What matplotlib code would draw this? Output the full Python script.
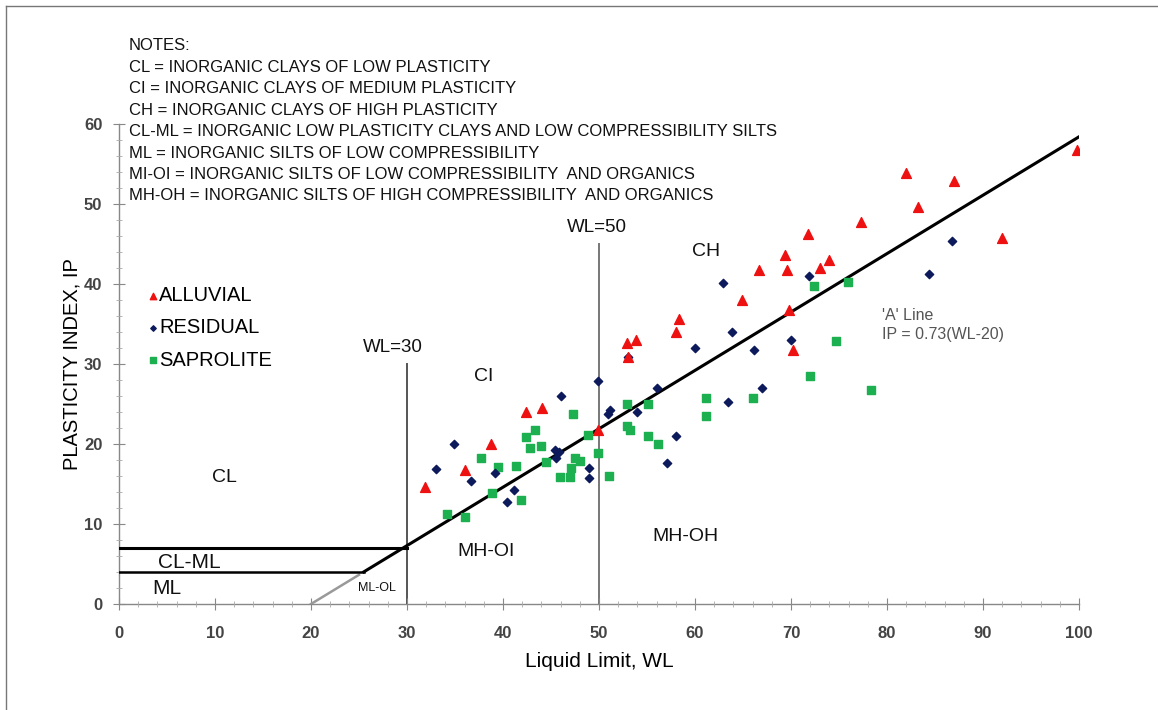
import numpy as np
import matplotlib
matplotlib.use("Agg")
import matplotlib.pyplot as plt
from matplotlib.ticker import MultipleLocator

plt.rcParams["font.family"] = ["Liberation Sans", "DejaVu Sans"]

# data
alluvial_wl = [31.9, 36.0, 38.8, 42.4, 44.1, 49.9, 52.9, 53.9, 53.0, 58.3, 58.0, 64.9,
               66.7, 69.4, 69.6, 69.8, 70.2, 71.8, 73.0, 74.0, 77.3, 82.0, 83.2, 87.0,
               92.0, 99.75]
alluvial_ip = [14.6, 16.8, 20.0, 24.0, 24.5, 21.8, 32.6, 33.0, 30.9, 35.6, 34.0, 38.0,
               41.7, 43.6, 41.7, 36.8, 31.8, 46.3, 42.0, 43.0, 47.7, 53.9, 49.6, 52.9,
               45.7, 56.75]

residual_wl = [33.0, 34.9, 36.7, 39.2, 40.4, 41.1, 45.4, 45.8, 45.5, 46.0, 49.0, 49.0,
               49.9, 50.9, 51.1, 53.0, 54.0, 56.0, 57.1, 58.0, 60.0, 62.9, 63.4, 63.9,
               66.1, 67.0, 70.0, 71.9, 84.4, 86.8]
residual_ip = [16.9, 20.0, 15.4, 16.4, 12.7, 14.25, 19.2, 19.0, 18.2, 26.0, 17.0, 15.8,
               27.9, 23.75, 24.25, 30.9, 24.0, 27.0, 17.6, 21.0, 32.0, 40.1, 25.2, 34.0,
               31.75, 27.0, 33.0, 41.0, 41.3, 45.4]

saprolite_wl = [34.2, 36.0, 37.7, 38.9, 39.5, 41.4, 41.9, 42.4, 42.8, 43.3, 44.0, 44.5,
                45.9, 47.0, 47.1, 47.3, 47.5, 48.0, 48.9, 49.9, 51.0, 52.9, 53.2, 52.95,
                55.1, 55.1, 56.1, 61.1, 61.1, 66.0, 72.0, 72.4, 74.7, 75.9, 78.3]
saprolite_ip = [11.3, 10.9, 18.2, 13.9, 17.1, 17.25, 13.0, 20.9, 19.5, 21.75, 19.7, 17.8,
                15.9, 15.9, 17.0, 23.75, 18.3, 17.9, 21.1, 18.9, 16.0, 22.2, 21.75, 25.0,
                25.0, 21.0, 20.0, 25.8, 23.5, 25.7, 28.5, 39.8, 32.9, 40.2, 26.75]

notes = [
    "NOTES:",
    "CL = INORGANIC CLAYS OF LOW PLASTICITY",
    "CI = INORGANIC CLAYS OF MEDIUM PLASTICITY",
    "CH = INORGANIC CLAYS OF HIGH PLASTICITY",
    "CL-ML = INORGANIC LOW PLASTICITY CLAYS AND LOW COMPRESSIBILITY SILTS",
    "ML = INORGANIC SILTS OF LOW COMPRESSIBILITY",
    "MI-OI = INORGANIC SILTS OF LOW COMPRESSIBILITY  AND ORGANICS",
    "MH-OH = INORGANIC SILTS OF HIGH COMPRESSIBILITY  AND ORGANICS",
]

W, H = 1158, 710
fig = plt.figure(figsize=(W / 100, H / 100), dpi=100)
ax = fig.add_axes([119 / W, 1 - 604 / H, 960 / W, 480 / H])
ax.set_xlim(0, 100)
ax.set_ylim(0, 60)
for s in ["top", "right"]:
    ax.spines[s].set_visible(False)
for s in ["left", "bottom"]:
    ax.spines[s].set_color("#888888")
    ax.spines[s].set_linewidth(1.0)
    ax.spines[s].set_zorder(0)

ax.xaxis.set_major_locator(MultipleLocator(10))
ax.xaxis.set_minor_locator(MultipleLocator(2))
ax.yaxis.set_major_locator(MultipleLocator(10))
ax.yaxis.set_minor_locator(MultipleLocator(2))
ax.tick_params(which="major", direction="inout", length=8, color="#888888",
               labelsize=12, labelcolor="#444444")
ax.tick_params(axis="x", which="major", pad=12)
ax.tick_params(axis="y", which="major", pad=8)
ax.tick_params(which="minor", direction="inout", length=4, color="#aaaaaa")
for lab in ax.get_xticklabels() + ax.get_yticklabels():
    lab.set_fontweight("bold")

ax.set_xlabel("Liquid Limit, WL", fontsize=15, labelpad=8)
ax.set_ylabel("PLASTICITY INDEX, IP", fontsize=14.5, labelpad=2)

# classification lines
wl_a = np.array([25.5, 100])
ax.plot(wl_a, 0.73 * (wl_a - 20), color="black", lw=2.2, zorder=2)
wl_b = np.array([20, 25])
ax.plot(wl_b, 0.73 * (wl_b - 20), color="#999999", lw=1.8, zorder=2)
ax.plot([0, 30], [7, 7], color="black", lw=2.2, zorder=2)
ax.plot([0, 25.5], [4, 4], color="black", lw=1.8, zorder=2)
ax.plot([30, 30], [0, 30], color="#555555", lw=1.4, zorder=1)
ax.plot([50, 50], [0, 45], color="#777777", lw=1.4, zorder=1)

ax.scatter(saprolite_wl, saprolite_ip, marker="s", s=40, color="#1db050", zorder=3,
           label="SAPROLITE")
ax.scatter(residual_wl, residual_ip, marker="D", s=18, color="#0c1a5c", zorder=4,
           label="RESIDUAL")
ax.scatter(alluvial_wl, alluvial_ip, marker="^", s=50, color="#ee1111", zorder=5,
           label="ALLUVIAL")

h, l = ax.get_legend_handles_labels()
leg = ax.legend(h[::-1], l[::-1], loc="upper left", bbox_to_anchor=(138 / W, 1 - 276 / H),
                bbox_transform=fig.transFigure, frameon=False, fontsize=14.5,
                handlelength=0.5, handletextpad=0.05, labelspacing=0.66,
                markerscale=0.65, borderpad=0)

# zone labels
zone_kw = dict(fontsize=14, color="#111111", ha="center", va="center")
ax.text(11, 15.8, "CL", **zone_kw)
ax.text(38, 28.4, "CI", **zone_kw)
ax.text(61.2, 44.1, "CH", **zone_kw)
ax.text(38.2, 6.6, "MH-OI", **zone_kw)
ax.text(59, 8.4, "MH-OH", **zone_kw)
ax.text(7.3, 5.2, "CL-ML", fontsize=15, color="#111111", ha="center", va="center")
ax.text(5, 2.0, "ML", fontsize=15, color="#111111", ha="center", va="center")
ax.text(26.9, 2.0, "ML-OL", fontsize=9, color="#111111", ha="center", va="center")
ax.text(28.5, 32.0, "WL=30", fontsize=13.5, color="#111111", ha="center", va="center")
ax.text(49.8, 47.0, "WL=50", fontsize=13.5, color="#111111", ha="center", va="center")
ax.text(79.5, 34.9, "'A' Line\nIP = 0.73(WL-20)", fontsize=11.5, color="#555555",
        ha="left", va="center", linespacing=1.35)

# notes block
for i, line in enumerate(notes):
    fig.text(129 / W, 1 - (46 + 21.4 * i) / H, line, fontsize=12,
             ha="left", va="center", color="#111111")

# outer frame
fig.add_artist(plt.Line2D([6 / W, 6 / W], [0, 1 - 6 / H], transform=fig.transFigure,
                          color="#777777", lw=1))
fig.add_artist(plt.Line2D([6 / W, 1], [1 - 6 / H, 1 - 6 / H], transform=fig.transFigure,
                          color="#777777", lw=1))

fig.savefig("out.png", dpi=100)
